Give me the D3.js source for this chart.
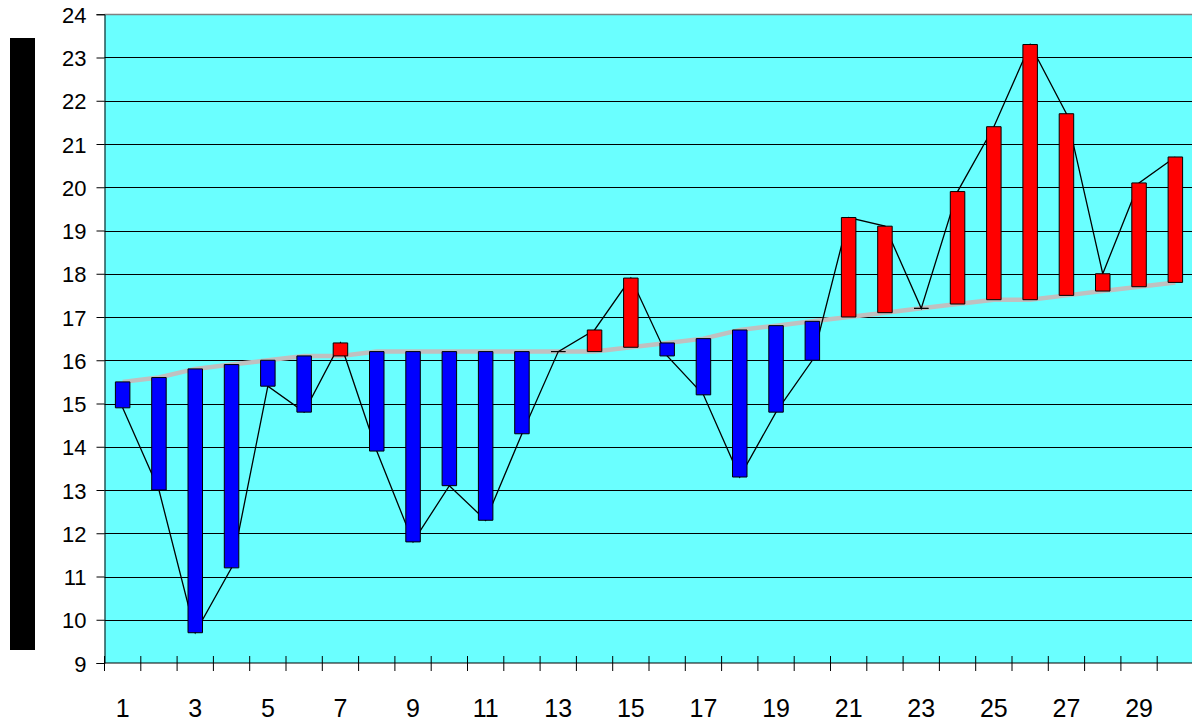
<!DOCTYPE html>
<html>
<head>
<meta charset="utf-8">
<script src="https://cdn.jsdelivr.net/npm/d3@7"></script>
<style>
  html, body { margin: 0; padding: 0; background: #fff; }
  svg { display: block; }
  text { font-family: "Liberation Sans", Arial, sans-serif; fill: #000; }
</style>
</head>
<body>
<svg id="chart" width="1192" height="722"></svg>
<script>
// ---- data ----
const categories = d3.range(1, 31);
const values = [14.9, 13.0, 9.7, 11.2, 15.4, 14.8, 16.4, 13.9, 11.8, 13.1,
                12.3, 14.3, 16.2, 16.7, 17.9, 16.1, 15.2, 13.3, 14.8, 16.0,
                19.3, 19.1, 17.2, 19.9, 21.4, 23.3, 21.7, 18.0, 20.1, 20.7];
const movingAverage = [15.5, 15.6, 15.8, 15.9, 16.0, 16.1, 16.1, 16.2, 16.2, 16.2,
                       16.2, 16.2, 16.2, 16.2, 16.3, 16.4, 16.5, 16.7, 16.8, 16.9,
                       17.0, 17.1, 17.2, 17.3, 17.4, 17.4, 17.5, 17.6, 17.7, 17.8];
const yTicks = d3.range(9, 25);
const xTickLabels = categories.filter(c => c % 2 === 1);

// ---- layout ----
const svg = d3.select("#chart");
const pLeft = 104.5, pRight = 1193.5, pTop = 14.25, pBottom = 663;

const x = d3.scaleBand().domain(categories).range([pLeft, pRight]).paddingInner(0).paddingOuter(0);
const y = d3.scaleLinear().domain([9, 24]).range([pBottom, pTop]);
const cx = c => x(c) + x.bandwidth() / 2;

// black box on the left
svg.append("rect").attr("x", 10).attr("y", 38).attr("width", 25).attr("height", 612).attr("fill", "#000");

// plot background
svg.append("rect").attr("x", pLeft).attr("y", pTop).attr("width", 1192 - pLeft).attr("height", pBottom - pTop)
  .attr("fill", "#6AFFFF");

// gridlines
svg.append("g").selectAll("line").data(yTicks.filter(t => t > 9 && t < 24)).join("line")
  .attr("x1", pLeft).attr("x2", 1192)
  .attr("y1", d => Math.round(y(d)) + 0.5).attr("y2", d => Math.round(y(d)) + 0.5)
  .attr("stroke", "#000").attr("stroke-width", 1);
svg.append("line").attr("x1", pLeft).attr("x2", 1192).attr("y1", 14.5).attr("y2", 14.5)
  .attr("stroke", "#808080").attr("stroke-width", 1.5);

// y axis
const yAxis = svg.append("g").attr("transform", `translate(${pLeft},0)`)
  .call(d3.axisLeft(y).tickValues(yTicks).tickSize(8).tickPadding(0).tickFormat(d3.format("d")));
yAxis.select(".domain").attr("stroke", "#000");
yAxis.selectAll(".tick line").attr("stroke", "#000");
yAxis.selectAll(".tick text").attr("x", -18).attr("y", 8).attr("dy", 0)
  .attr("font-size", 22).style("font-size", "22px")
  .style("font-family", "'Liberation Sans', Arial, sans-serif");

// x axis line
svg.append("line").attr("x1", pLeft).attr("x2", 1192).attr("y1", pBottom).attr("y2", pBottom)
  .attr("stroke", "#000").attr("stroke-width", 1);
// x ticks at band boundaries (cross)
const boundaries = categories.map(c => x(c)).concat([x(categories[categories.length - 1]) + x.bandwidth()]);
svg.append("g").selectAll("line").data(boundaries).join("line")
  .attr("x1", d => d).attr("x2", d => d)
  .attr("y1", pBottom - 7).attr("y2", pBottom + 8)
  .attr("stroke", "#000").attr("stroke-width", 1);
// x labels
svg.append("g").selectAll("text").data(xTickLabels).join("text")
  .attr("x", d => cx(d)).attr("y", 717)
  .attr("text-anchor", "middle")
  .style("font-size", "25px")
  .text(d => d);

// moving average (gray)
const rows = categories.map((c, i) => ({ c, v: values[i], ma: movingAverage[i] }));
svg.append("path").datum(rows)
  .attr("d", d3.line().x(d => cx(d.c)).y(d => y(d.ma)))
  .attr("fill", "none").attr("stroke", "#C0C0C0").attr("stroke-width", 4.5);

// value line (black)
svg.append("path").datum(rows)
  .attr("d", d3.line().x(d => cx(d.c)).y(d => y(d.v)))
  .attr("fill", "none").attr("stroke", "#000").attr("stroke-width", 1.3);

// bars from moving average to value
const bw = 14.5;
svg.append("g").selectAll("path").data(rows).join("path")
  .attr("d", d => {
    const y0 = y(Math.max(d.v, d.ma)), y1 = y(Math.min(d.v, d.ma));
    const x0 = cx(d.c) - bw / 2;
    return `M${x0},${y0}h${bw}V${y1}h${-bw}Z`;
  })
  .attr("fill", d => d.v >= d.ma ? "#FF0000" : "#0000FF")
  .attr("stroke", "#000").attr("stroke-width", 1);
</script>
</body>
</html>
